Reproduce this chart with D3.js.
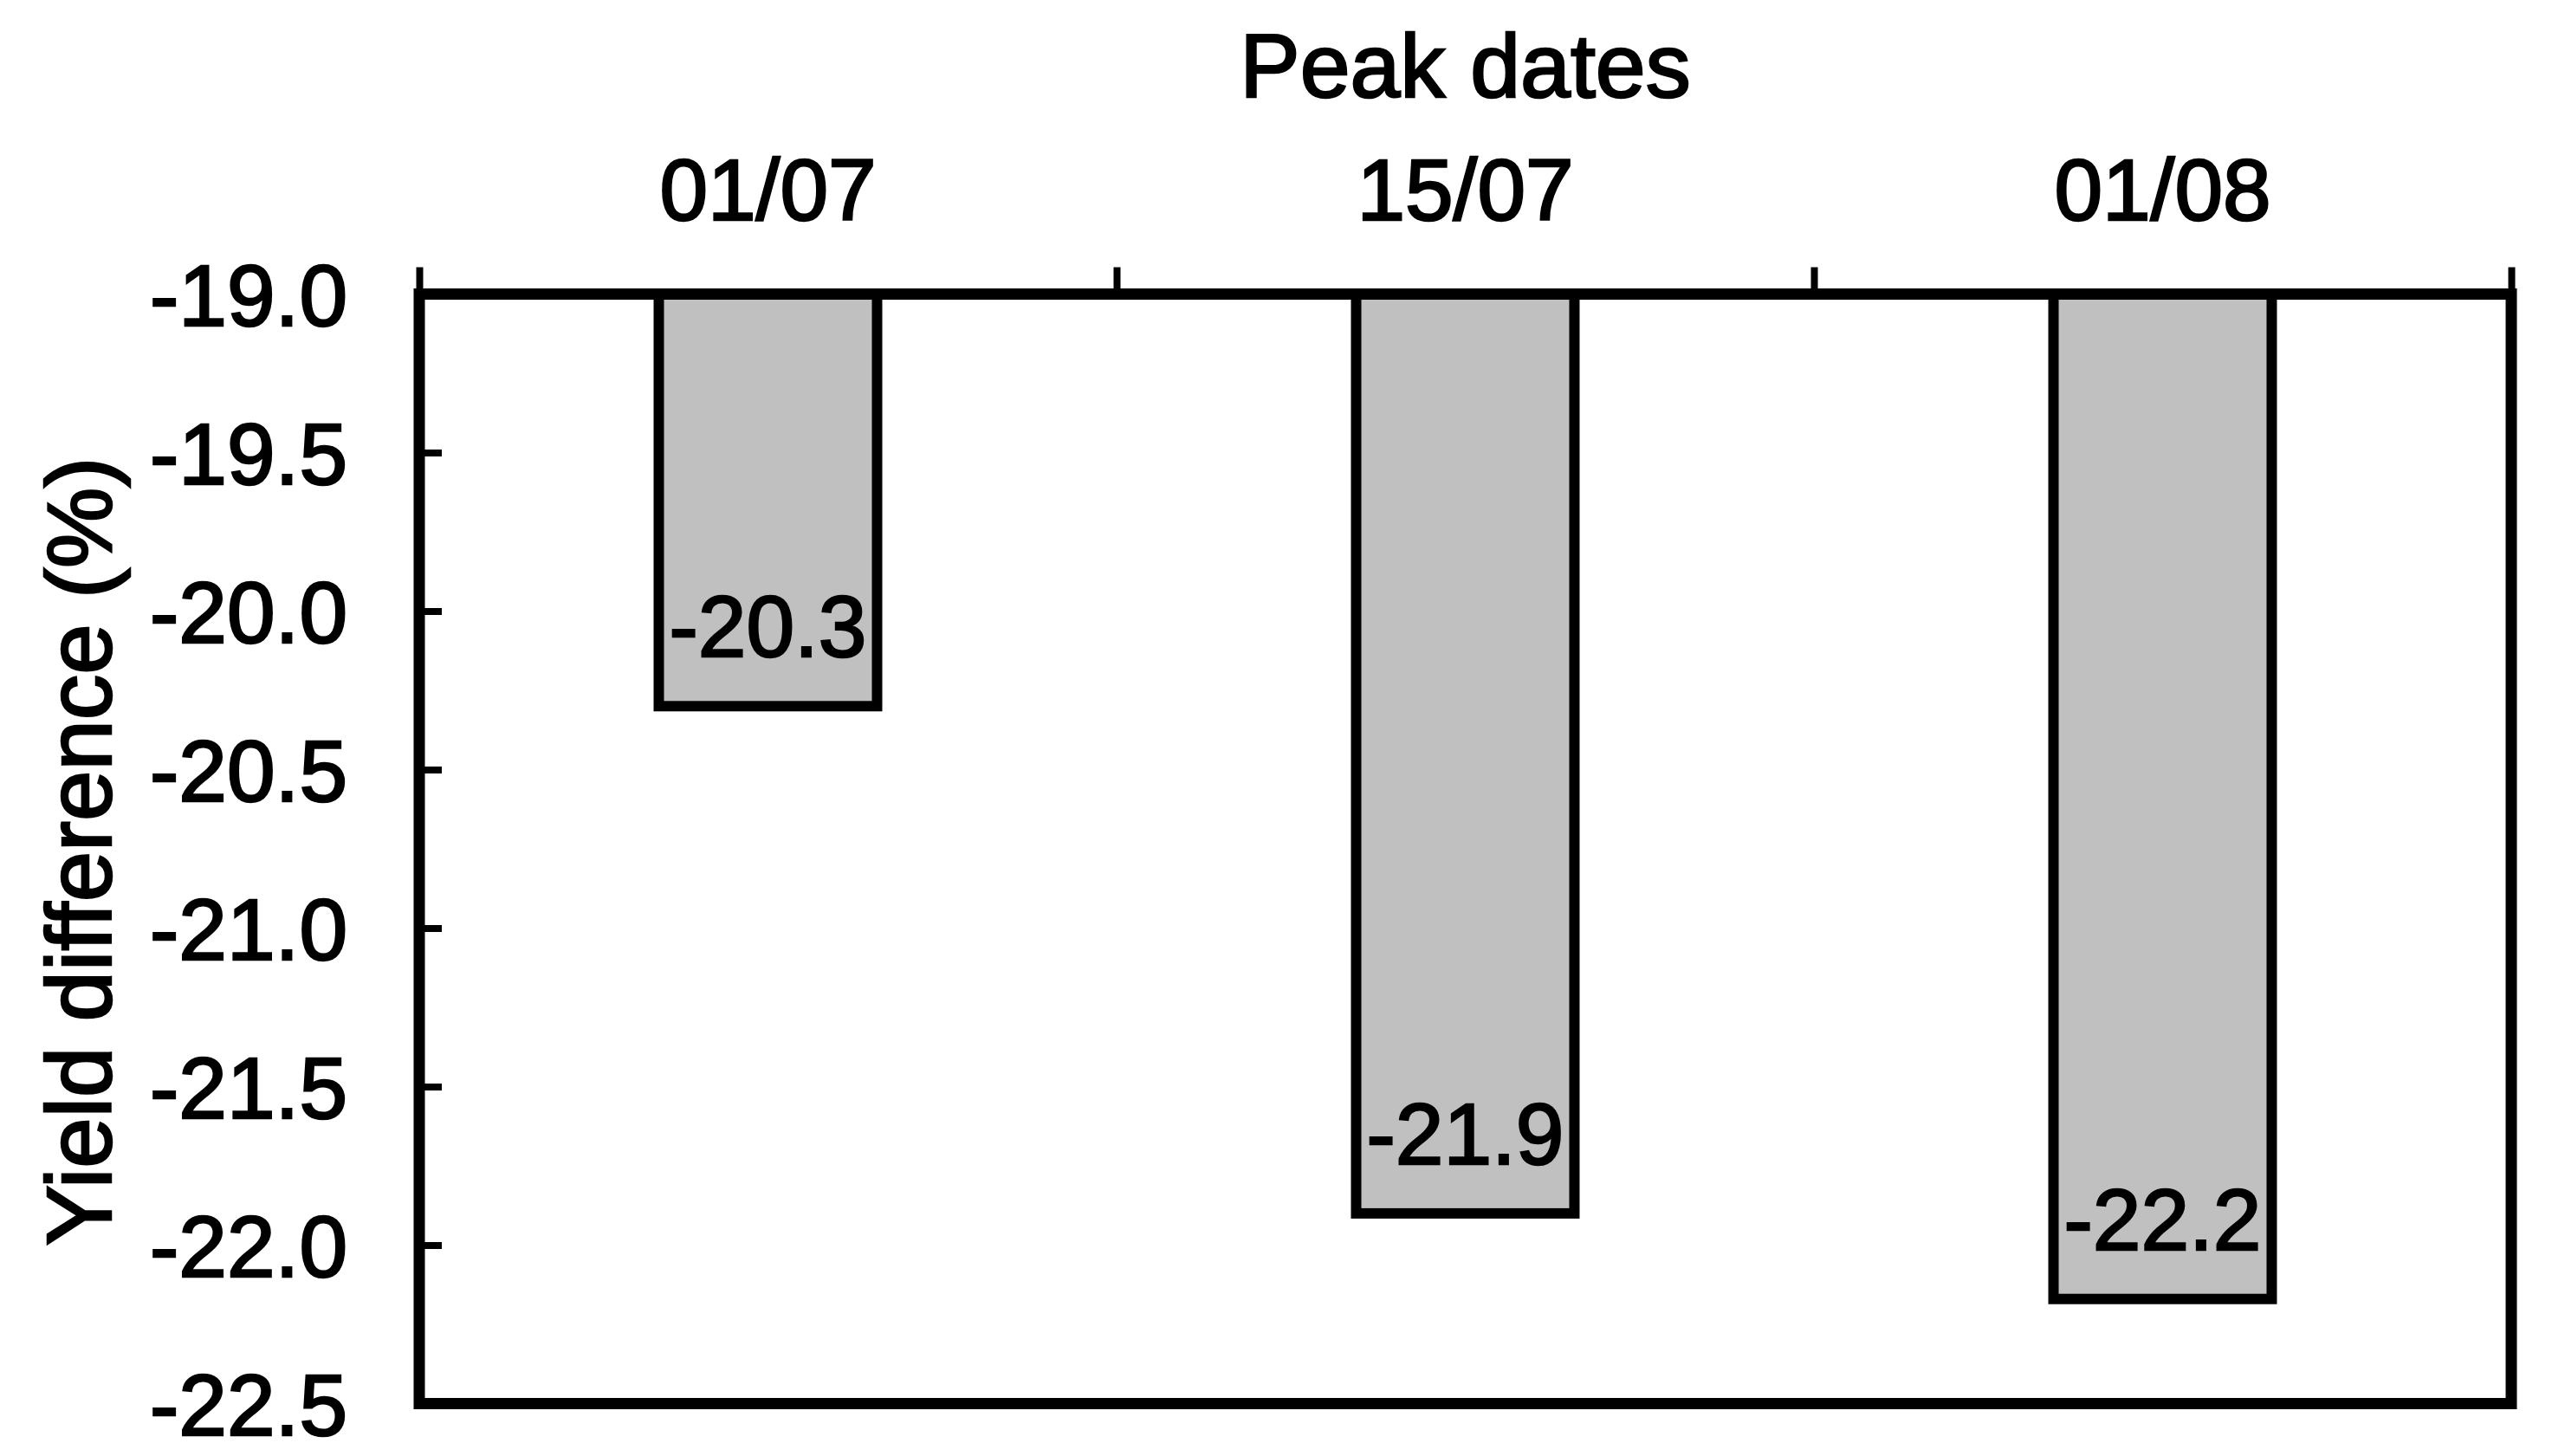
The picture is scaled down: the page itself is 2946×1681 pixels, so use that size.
<!DOCTYPE html>
<html>
<head>
<meta charset="utf-8">
<script src="https://cdn.jsdelivr.net/npm/d3@7"></script>
<style>
  body { margin: 0; background: #fff; }
  text { font-family: "Liberation Sans", Arial, sans-serif; fill: #000; stroke: #000; stroke-width: 2.5px; }
</style>
</head>
<body>
<div id="main"></div>
<script>
// data
var peakDates = ["01/07", "15/07", "01/08"];
var yieldDiff = [-20.3, -21.9, -22.17];
var yTicks = [-19.0, -19.5, -20.0, -20.5, -21.0, -21.5, -22.0, -22.5];

var width = 2946, height = 1681;
var margin = {top: 339.5, right: 47, bottom: 60.5, left: 484};
var plotW = width - margin.left - margin.right,
    plotH = height - margin.top - margin.bottom;

var svg = d3.select("#main").append("svg")
    .attr("width", width)
    .attr("height", height)
    .style("background", "#fff");

var g = svg.append("g").attr("transform", "translate(" + margin.left + "," + margin.top + ")");

var x = d3.scaleBand()
    .domain(peakDates)
    .range([0, plotW])
    .paddingInner(0.687)
    .paddingOuter(0.3435);

// boundaries between categories for the top tick marks
var xEdge = d3.scaleLinear().domain([0, peakDates.length]).range([0, plotW]);

var y = d3.scaleLinear()
    .domain([-19, -22.5])
    .range([0, plotH]);

var fmt = function(v) { return v.toFixed(1); };

// bars hang down from the top axis
g.selectAll(".bar").data(yieldDiff)
  .enter().append("rect")
    .attr("class", "bar")
    .attr("x", (d, i) => x(peakDates[i]))
    .attr("y", y(-19))
    .attr("width", x.bandwidth())
    .attr("height", d => y(d) - y(-19))
    .attr("fill", "#c0c0c0")
    .attr("stroke", "#000")
    .attr("stroke-width", 12);

g.selectAll(".barLabel").data(yieldDiff)
  .enter().append("text")
    .attr("class", "barLabel")
    .attr("x", (d, i) => x(peakDates[i]) + x.bandwidth() / 2)
    .attr("y", d => y(d) - 57)
    .attr("text-anchor", "middle")
    .style("font-size", "100px")
    .text(fmt);

// y axis, ticks pointing inwards
var yAxis = g.append("g")
    .call(d3.axisLeft(y).tickValues(yTicks).tickFormat(fmt)
      .tickSizeInner(-26).tickSizeOuter(0).tickPadding(83));
yAxis.select(".domain").remove();
yAxis.selectAll(".tick line").attr("stroke", "#000").attr("stroke-width", 8);
yAxis.selectAll(".tick text")
    .style("font-size", "100px")
    .style("font-family", "'Liberation Sans', Arial, sans-serif")
    .attr("dy", "0.36em");

// top axis: tick marks at category boundaries
var xTickAxis = g.append("g")
    .call(d3.axisTop(xEdge).tickValues(d3.range(peakDates.length + 1)).tickFormat("")
      .tickSizeInner(31).tickSizeOuter(0));
xTickAxis.select(".domain").remove();
xTickAxis.selectAll(".tick line").attr("stroke", "#000").attr("stroke-width", 8);

// top axis labels at category centers
var xLabelAxis = g.append("g")
    .call(d3.axisTop(x).tickSize(0).tickPadding(86));
xLabelAxis.select(".domain").remove();
xLabelAxis.selectAll(".tick text")
    .style("font-size", "100px")
    .style("font-family", "'Liberation Sans', Arial, sans-serif")
    .attr("dy", "0");

// plot frame
g.append("rect")
    .attr("x", 0)
    .attr("y", 0)
    .attr("width", plotW)
    .attr("height", plotH)
    .attr("fill", "none")
    .attr("stroke", "#000")
    .attr("stroke-width", 13);

svg.append("text")
    .attr("x", margin.left + plotW / 2)
    .attr("y", 112)
    .attr("text-anchor", "middle")
    .style("font-size", "104px")
    .text("Peak dates");

svg.append("text")
    .attr("transform", "translate(128," + 983 + ") rotate(-90)")
    .attr("text-anchor", "middle")
    .style("font-size", "105px")
    .text("Yield difference (%)");
</script>
</body>
</html>
